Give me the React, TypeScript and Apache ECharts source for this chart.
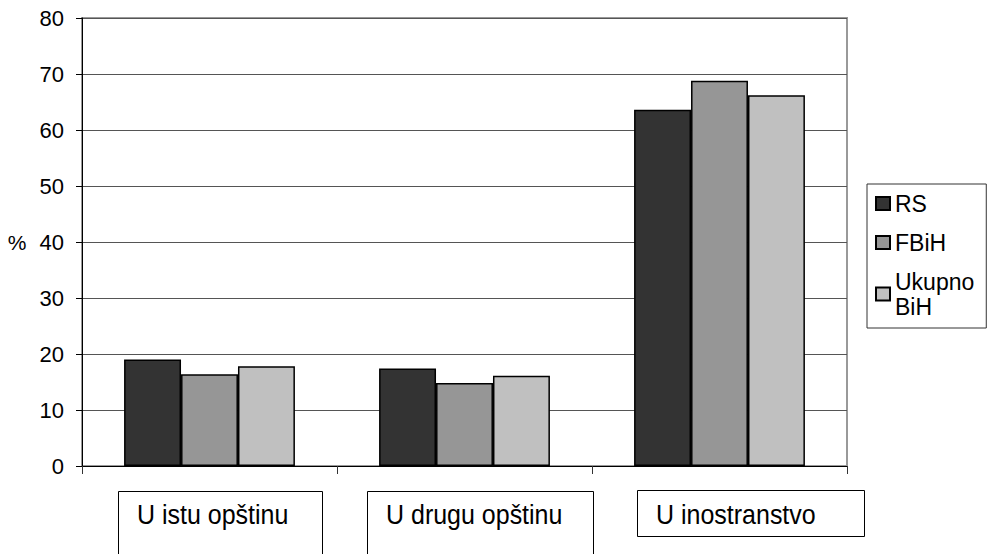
import React, { useEffect, useRef } from "react";
import * as echarts from "echarts";

const categories = ["U istu opštinu", "U drugu opštinu", "U inostranstvo"];
const seriesNames = ["RS", "FBiH", "Ukupno BiH"];
const rsValues = [19.0, 17.4, 63.6];
const fbihValues = [16.4, 14.8, 68.8];
const ukupnoValues = [17.8, 16.1, 66.2];
const seriesColors = ["#333333", "#969696", "#c0c0c0"];
const yTicks = [0, 10, 20, 30, 40, 50, 60, 70, 80];

const FONT = "'Liberation Sans', Arial, sans-serif";

// boxes for category labels (annotation layout)
const labelBoxes = [
  { x: 118, y: 491, w: 204, h: 70 },
  { x: 367, y: 491, w: 226, h: 70 },
  { x: 637, y: 490, w: 227, h: 46 },
];

export default function App() {
  const ref = useRef<HTMLDivElement>(null);
  useEffect(() => {
    if (!ref.current) return;
    const chart = echarts.init(ref.current, null, { renderer: "svg" });
    const values = [rsValues, fbihValues, ukupnoValues];
    const graphics: any[] = [];
    categories.forEach((c, i) => {
      const b = labelBoxes[i];
      graphics.push({
        type: "rect",
        shape: { x: b.x + 0.5, y: b.y + 0.5, width: b.w, height: b.h },
        style: { fill: "#fff", stroke: "#000", lineWidth: 1 },
        silent: true,
      });
      graphics.push({
        type: "text",
        x: b.x + 19,
        y: 515,
        scaleY: 1.1,
        style: {
          text: c,
          fontSize: 25,
          fontFamily: FONT,
          fill: "#000",
          verticalAlign: "middle",
          align: "left",
        },
        silent: true,
      });
    });
    chart.setOption({
      animation: false,
      backgroundColor: "#fff",
      grid: {
        left: 82,
        right: 141,
        top: 18,
        bottom: 88,
        show: true,
        borderColor: "#999",
        borderWidth: 2,
        backgroundColor: "transparent",
      },
      legend: {
        orient: "vertical",
        left: 867,
        top: 184,
        padding: [7, 12, 9, 8],
        borderColor: "#333",
        borderWidth: 1,
        itemWidth: 14,
        itemHeight: 13,
        itemGap: 14,
        icon: "rect",
        data: seriesNames,
        formatter: (n: string) => n.replace(" ", "\n"),
        textStyle: {
          fontSize: 23,
          fontFamily: FONT,
          color: "#000",
          lineHeight: 25,
        },
      },
      xAxis: {
        type: "category",
        data: categories,
        axisLine: { lineStyle: { color: "#000", width: 1 } },
        axisTick: { show: true, length: 8, lineStyle: { color: "#333" } },
        axisLabel: { show: false },
        splitLine: { show: false },
      },
      yAxis: {
        type: "value",
        min: 0,
        max: yTicks[yTicks.length - 1],
        interval: yTicks[1] - yTicks[0],
        name: "%",
        nameLocation: "middle",
        nameRotate: 0,
        nameGap: 65,
        nameTextStyle: {
          fontSize: 21,
          fontFamily: FONT,
          color: "#000",
          align: "center",
          verticalAlign: "middle",
        },
        axisLine: { show: true, lineStyle: { color: "#000", width: 1 } },
        axisTick: { show: true, length: 6, lineStyle: { color: "#000" } },
        axisLabel: {
          fontSize: 22,
          fontFamily: FONT,
          color: "#000",
          margin: 18,
        },
        splitLine: { show: true, lineStyle: { color: "#555", width: 1 } },
      },
      series: seriesNames.map((name, i) => ({
        name,
        type: "bar",
        data: values[i],
        barGap: "0%",
        barCategoryGap: "33%",
        itemStyle: {
          color: seriesColors[i],
          borderColor: "#000",
          borderWidth: 1.5,
        },
      })),
      graphic: graphics,
    });
    return () => chart.dispose();
  }, []);
  return (
    <div
      ref={ref}
      style={{ position: "fixed", left: 0, top: 0, width: 988, height: 554, background: "#fff" }}
    />
  );
}
